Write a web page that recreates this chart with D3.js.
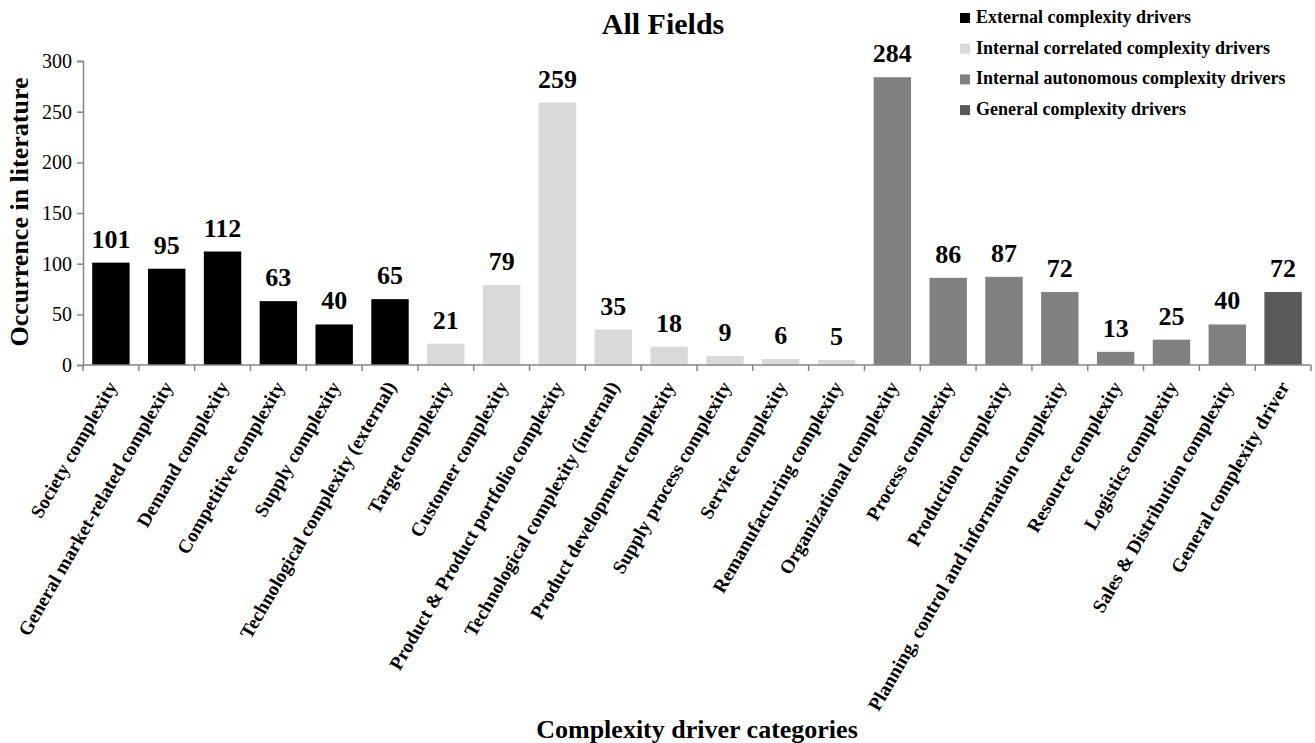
<!DOCTYPE html>
<html>
<head>
<meta charset="utf-8">
<script src="https://cdn.jsdelivr.net/npm/d3@7"></script>
<style>
  body { margin: 0; background: #fff; }
  svg { font-family: "Liberation Serif", "Times New Roman", serif; }
</style>
</head>
<body>
<div id="vis"></div>
<script>
const categories = [
  "Society complexity",
  "General market-related complexity",
  "Demand complexity",
  "Competitive complexity",
  "Supply complexity",
  "Technological complexity (external)",
  "Target complexity",
  "Customer complexity",
  "Product & Product portfolio complexity",
  "Technological complexity (internal)",
  "Product development complexity",
  "Supply process complexity",
  "Service complexity",
  "Remanufacturing complexity",
  "Organizational complexity",
  "Process complexity",
  "Production complexity",
  "Planning, control and information complexity",
  "Resource complexity",
  "Logistics complexity",
  "Sales & Distribution complexity",
  "General complexity driver",
];
const values = [101, 95, 112, 63, 40, 65, 21, 79, 259, 35, 18, 9, 6, 5, 284, 86, 87, 72, 13, 25, 40, 72];
const groupOf = [0, 0, 0, 0, 0, 0, 1, 1, 1, 1, 1, 1, 1, 1, 2, 2, 2, 2, 2, 2, 2, 3];
const groups = [
  "External complexity drivers",
  "Internal correlated complexity drivers",
  "Internal autonomous complexity drivers",
  "General complexity drivers",
];
const groupColors = ["#000000", "#d9d9d9", "#808080", "#595959"];
const yTicks = [0, 50, 100, 150, 200, 250, 300];

const W = 1315, H = 743;
const plot = { left: 83, right: 1311, top: 61, bottom: 365 };
const axisColor = "#868686";

const svg = d3.select("#vis").append("svg").attr("width", W).attr("height", H);

const x = d3.scaleBand()
  .domain(categories)
  .range([plot.left, plot.right])
  .paddingInner(0.33)
  .paddingOuter(0.165);

const y = d3.scaleLinear().domain([0, 300]).range([plot.bottom, plot.top]);

const color = d3.scaleOrdinal().domain(groups).range(groupColors);

// y axis
const yAxis = d3.axisLeft(y).tickValues(yTicks).tickSize(6).tickPadding(5);
const yG = svg.append("g").attr("transform", `translate(${plot.left},0)`).call(yAxis);
yG.select(".domain").attr("stroke", axisColor).attr("stroke-width", 1.5);
yG.selectAll(".tick line").attr("stroke", axisColor).attr("stroke-width", 1.5);
yG.selectAll(".tick text")
  .attr("fill", "#000")
  .style("font-size", "20px")
  .style("font-family", "Liberation Serif, serif");

// bars
svg.append("g")
  .selectAll("rect")
  .data(categories)
  .enter()
  .append("rect")
  .attr("x", (d) => x(d))
  .attr("width", x.bandwidth())
  .attr("y", (d, i) => y(values[i]))
  .attr("height", (d, i) => y(0) - y(values[i]))
  .attr("fill", (d, i) => color(groups[groupOf[i]]));

// x axis line and ticks at band boundaries
const step = x.step();
const x0 = plot.left;
const xG = svg.append("g");
xG.append("line")
  .attr("x1", plot.left).attr("x2", plot.right)
  .attr("y1", y(0)).attr("y2", y(0))
  .attr("stroke", axisColor).attr("stroke-width", 1.5);
xG.selectAll(".xtick")
  .data(d3.range(categories.length + 1))
  .enter()
  .append("line")
  .attr("x1", (i) => x0 + i * step).attr("x2", (i) => x0 + i * step)
  .attr("y1", y(0)).attr("y2", y(0) + 6)
  .attr("stroke", axisColor).attr("stroke-width", 1.5);

// category labels
svg.append("g")
  .selectAll("text")
  .data(categories)
  .enter()
  .append("text")
  .attr("transform", (d) => `translate(${x(d) + x.bandwidth() / 2 + 1},${y(0) + 18}) rotate(-60)`)
  .attr("text-anchor", "end")
  .attr("dy", "0.35em")
  .style("font-size", "19.3px")
  .style("font-weight", "bold")
  .text((d) => d);

// value labels
svg.append("g")
  .selectAll("text")
  .data(categories)
  .enter()
  .append("text")
  .attr("x", (d) => x(d) + x.bandwidth() / 2)
  .attr("y", (d, i) => y(values[i]) - 15)
  .attr("text-anchor", "middle")
  .style("font-size", "26px")
  .style("font-weight", "bold")
  .text((d, i) => values[i]);

// title
svg.append("text")
  .attr("x", 663).attr("y", 34)
  .attr("text-anchor", "middle")
  .style("font-size", "30px")
  .style("font-weight", "bold")
  .text("All Fields");

// y axis title
svg.append("text")
  .attr("transform", `translate(28,212) rotate(-90)`)
  .attr("text-anchor", "middle")
  .style("font-size", "26px")
  .style("font-weight", "bold")
  .text("Occurrence in literature");

// x axis title
svg.append("text")
  .attr("x", 697).attr("y", 738)
  .attr("text-anchor", "middle")
  .style("font-size", "26px")
  .style("font-weight", "bold")
  .text("Complexity driver categories");

// legend
const legend = svg.append("g").attr("transform", "translate(960,0)");
const rows = legend.selectAll("g")
  .data(groups)
  .enter()
  .append("g")
  .attr("transform", (d, i) => `translate(0,${23 + i * 30.7})`);
rows.append("rect")
  .attr("x", 0).attr("y", -10)
  .attr("width", 10).attr("height", 10)
  .attr("fill", (d) => color(d));
rows.append("text")
  .attr("x", 16).attr("y", 0)
  .style("font-size", "18px")
  .style("font-weight", "bold")
  .text((d) => d);
</script>
</body>
</html>
